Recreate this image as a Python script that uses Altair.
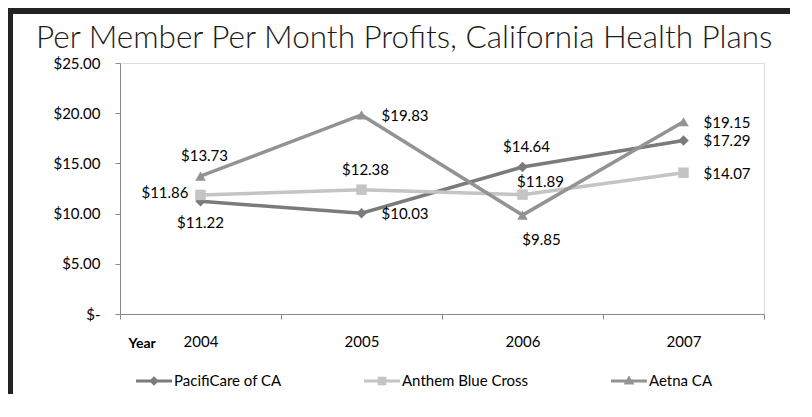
import altair as alt
import pandas as pd

years = ["2004", "2005", "2006", "2007"]
series_names = ["PacifiCare of CA", "Anthem Blue Cross", "Aetna CA"]
pacificare = [11.22, 10.03, 14.64, 17.29]
anthem = [11.86, 12.38, 11.89, 14.07]
aetna = [13.73, 19.83, 9.85, 19.15]
# where each data label sits relative to its point
pacificare_pos = ["below", "right", "above", "right"]
anthem_pos = ["left", "above", "aboveright", "right"]
aetna_pos = ["above", "right", "belowright", "right"]

colors = ["#7b7b7b", "#c4c4c4", "#939393"]
shapes = ["diamond", "square", "triangle-up"]
# legend symbols: a short line with the marker on it
legend_shapes = [
    "M-1,-0.085H1V0.085H-1ZM0,-0.27L0.27,0L0,0.27L-0.27,0Z",
    "M-1,-0.085H1V0.085H-1ZM-0.24,-0.24H0.24V0.24H-0.24Z",
    "M-1,-0.085H1V0.085H-1ZM0,-0.3L0.3,0.2H-0.3Z",
]

rows = []
for name, vals, pos in zip(series_names, [pacificare, anthem, aetna],
                           [pacificare_pos, anthem_pos, aetna_pos]):
    for y, v, p in zip(years, vals, pos):
        rows.append({"year": y, "series": name, "value": v, "pos": p})
df = pd.DataFrame(rows)

FONT = "Lato"

x = alt.X("year:N", title="Year",
          scale=alt.Scale(type="band", paddingInner=0, paddingOuter=0),
          axis=alt.Axis(tickBand="extent", labelAngle=0, tickSize=5, labelPadding=15,
                        labelFont=FONT, labelFontSize=15, labelColor="#000000",
                        titleX=8, titleY=29, titleAlign="left", titleBaseline="middle",
                        titleFontWeight="bold", titleFontSize=14, titleFont=FONT,
                        titleColor="#000000"))
y = alt.Y("value:Q", title=None,
          scale=alt.Scale(domain=[0, 25], nice=False),
          axis=alt.Axis(values=[0, 5, 10, 15, 20, 25], grid=False, tickSize=5, labelPadding=15,
                        labelFont=FONT, labelFontSize=15, labelColor="#000000",
                        labelExpr="datum.value == 0 ? '$-' : '$' + format(datum.value, '.2f')"))

legend = alt.Legend(title=None, orient="none", direction="horizontal",
                    legendX=16, legendY=300, columnPadding=82,
                    symbolSize=1296, symbolStrokeWidth=0, labelOffset=2,
                    labelFont=FONT, labelFontSize=15, labelColor="#000000")
color = alt.Color("series:N", scale=alt.Scale(domain=series_names, range=colors), legend=legend)

base = alt.Chart(df)

legend_layer = base.transform_filter("false").mark_point(filled=True, opacity=1).encode(
    x=x, y=y, color=color,
    shape=alt.Shape("series:N", scale=alt.Scale(domain=series_names, range=legend_shapes),
                    legend=legend))
lines = base.mark_line(strokeWidth=3.5).encode(x=x, y=y, color=color, detail="series:N")
point_layers = [
    base.transform_filter(alt.datum.series == name).mark_point(
        filled=True, opacity=1, size=110, shape=shp).encode(x=x, y=y, color=color)
    for name, shp in zip(series_names, shapes)
]

offsets = {
    "above": dict(dx=4, dy=-20, align="center"),
    "below": dict(dx=0, dy=22, align="center"),
    "right": dict(dx=20, dy=1, align="left"),
    "left": dict(dx=-12, dy=-2, align="right"),
    "aboveright": dict(dx=18, dy=-13, align="center"),
    "belowright": dict(dx=19, dy=25, align="center"),
}
labels = []
for p, o in offsets.items():
    labels.append(base.transform_filter(alt.datum.pos == p).mark_text(
        font=FONT, fontSize=15, color="#000000", baseline="middle", **o).encode(
        x=x, y=y, text=alt.Text("value:Q", format="$.2f")))

# slide frame (dark left and top edges)
frame_df = pd.DataFrame({"a": [0]})
frame_left = alt.Chart(frame_df).mark_rect(color="#222222").encode(
    x=alt.value(-112), x2=alt.value(-107), y=alt.value(-55), y2=alt.value(335))
frame_top = alt.Chart(frame_df).mark_rect(color="#222222").encode(
    x=alt.value(-112), x2=alt.value(670), y=alt.value(-55), y2=alt.value(-49))

chart = alt.layer(legend_layer, lines, *point_layers, *labels, frame_left, frame_top).properties(
    width=644, height=251,
    autosize=alt.AutoSizeParams(type="none"),
    padding={"left": 112, "top": 55, "right": 26, "bottom": 80},
    title=alt.TitleParams("Per Member Per Month Profits, California Health Plans",
                          anchor="start", frame="group", dx=-84, dy=56, offset=10,
                          font=FONT, fontSize=31.5, fontWeight=300, color="#1a1a1a"),
).configure_view(stroke=None).configure_axis(
    domainColor="#a6a6a6", tickColor="#a6a6a6").configure(background="white")

chart.save("out.html", embed_options={"renderer": "svg", "actions": False})
